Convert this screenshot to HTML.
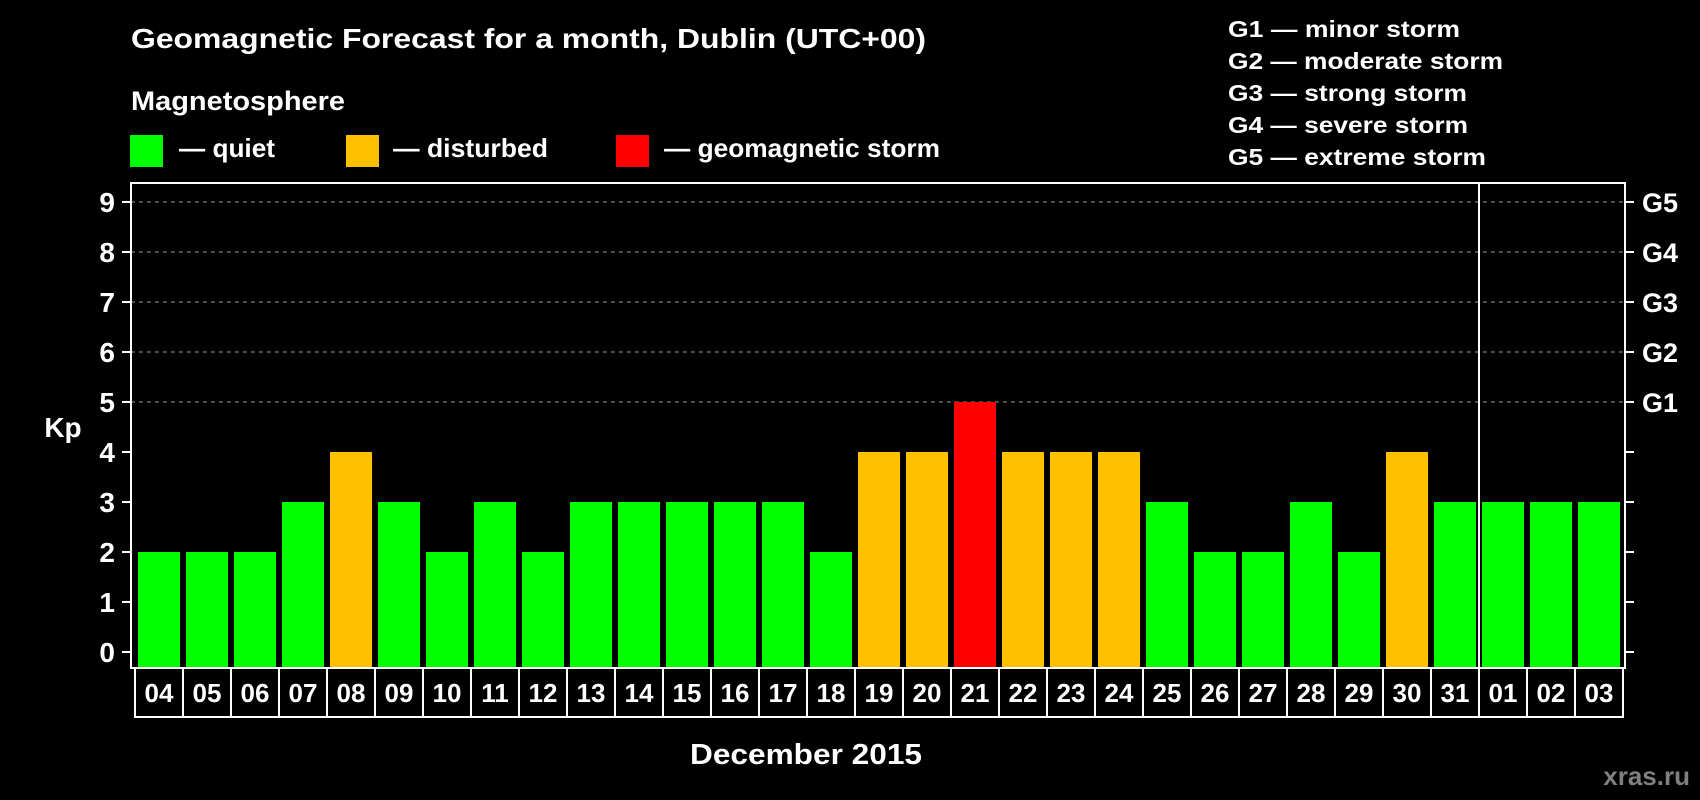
<!DOCTYPE html>
<html><head><meta charset="utf-8"><style>
html,body{margin:0;padding:0;background:#000;}
svg{display:block;font-family:"Liberation Sans",Arial,sans-serif;font-weight:bold;}
</style></head><body>
<svg id="chart" width="1700" height="800" viewBox="0 0 1700 800">
<text x="131" y="48" font-size="28" fill="#fff" textLength="795" lengthAdjust="spacingAndGlyphs">Geomagnetic Forecast for a month, Dublin (UTC+00)</text>
<text x="131" y="110" font-size="27" fill="#fff" textLength="214" lengthAdjust="spacingAndGlyphs">Magnetosphere</text>
<rect x="130" y="135" width="33" height="32" fill="#00ff00"/>
<text x="179" y="157" font-size="26" fill="#fff" textLength="96" lengthAdjust="spacingAndGlyphs">— quiet</text>
<rect x="346" y="135" width="33" height="32" fill="#ffc000"/>
<text x="393" y="157" font-size="26" fill="#fff" textLength="155" lengthAdjust="spacingAndGlyphs">— disturbed</text>
<rect x="616" y="135" width="33" height="32" fill="#ff0000"/>
<text x="664" y="157" font-size="26" fill="#fff" textLength="276" lengthAdjust="spacingAndGlyphs">— geomagnetic storm</text>
<g font-size="23" fill="#fff">
<text x="1228" y="37" textLength="232" lengthAdjust="spacingAndGlyphs">G1 — minor storm</text>
<text x="1228" y="69" textLength="275" lengthAdjust="spacingAndGlyphs">G2 — moderate storm</text>
<text x="1228" y="101" textLength="239" lengthAdjust="spacingAndGlyphs">G3 — strong storm</text>
<text x="1228" y="133" textLength="240" lengthAdjust="spacingAndGlyphs">G4 — severe storm</text>
<text x="1228" y="165" textLength="258" lengthAdjust="spacingAndGlyphs">G5 — extreme storm</text>
</g>
<text x="63" y="437" font-size="28" fill="#fff" text-anchor="middle">Kp</text>
<text x="806" y="764" font-size="29" fill="#fff" text-anchor="middle" textLength="232" lengthAdjust="spacingAndGlyphs">December 2015</text>
<text x="1690" y="785" font-size="26" fill="#808080" text-anchor="end">xras.ru</text>
<g id="grid"></g><g id="bars"></g><g id="axes"></g>
</svg>
<script>
const days = ["04","05","06","07","08","09","10","11","12","13","14","15","16","17","18","19","20","21","22","23","24","25","26","27","28","29","30","31","01","02","03"];
const kpValues = [2,2,2,3,4,3,2,3,2,3,3,3,3,3,2,4,4,5,4,4,4,3,2,2,3,2,4,3,3,3,3];
const yTicks = [0,1,2,3,4,5,6,7,8,9];
const gLabels = ["G1","G2","G3","G4","G5"];
const gLevels = [5,6,7,8,9];
const monthBreakAfter = "31";

const NS = "http://www.w3.org/2000/svg";
const L = 131, R = 1625, T = 183, B = 668;
const slot0 = 135, pitch = 48, barW = 42;
const y = v => 652 - v * 50;
const xs = i => slot0 + i * pitch;
function mk(tag, attrs, parent) {
  const e = document.createElementNS(NS, tag);
  for (const k in attrs) e.setAttribute(k, attrs[k]);
  parent.appendChild(e);
  return e;
}
const grid = document.getElementById('grid');
const bars = document.getElementById('bars');
const axes = document.getElementById('axes');

gLevels.forEach(v => {
  const ln = mk('line', {x1: L, x2: R, y1: y(v), y2: y(v), stroke: '#9a9a9a', 'stroke-width': 1, 'stroke-dasharray': '4,4'}, grid);
  
  
});

kpValues.forEach((v, i) => {
  const col = v >= 5 ? '#ff0000' : (v >= 4 ? '#ffc000' : '#00ff00');
  const r = mk('rect', {x: xs(i) + 3, y: y(v), width: barW, height: B - y(v), fill: col}, bars);
  
  
});

const frame = mk('rect', {x: L, y: T, width: R - L, height: B - T, fill: 'none', stroke: '#fff', 'stroke-width': 2}, axes);



const bi = days.indexOf(monthBreakAfter) + 1;
const sep = mk('line', {x1: xs(bi), x2: xs(bi), y1: T, y2: B, stroke: '#fff', 'stroke-width': 2}, axes);



yTicks.forEach(v => {
  mk('line', {x1: 122, x2: L, y1: y(v), y2: y(v), stroke: '#fff', 'stroke-width': 2}, axes);
  mk('line', {x1: R, x2: 1634, y1: y(v), y2: y(v), stroke: '#fff', 'stroke-width': 2}, axes);
  const t = mk('text', {x: 115, y: y(v) + 10, 'font-size': 28, fill: '#fff', 'text-anchor': 'end'}, axes);
  t.textContent = v;
  
  
});
gLabels.forEach((g, i) => {
  const t = mk('text', {x: 1642, y: y(gLevels[i]) + 10, 'font-size': 27, fill: '#fff'}, axes);
  t.textContent = g;
  
  
});

mk('line', {x1: slot0, x2: xs(days.length), y1: 717, y2: 717, stroke: '#fff', 'stroke-width': 2}, axes);
for (let i = 0; i <= days.length; i++) {
  mk('line', {x1: xs(i), x2: xs(i), y1: B, y2: 718, stroke: '#fff', 'stroke-width': 2}, axes);
}
days.forEach((d, i) => {
  const t = mk('text', {x: xs(i) + pitch / 2, y: 702, 'font-size': 26, fill: '#fff', 'text-anchor': 'middle'}, axes);
  t.textContent = d;
  
  
});
</script>
</body></html>
